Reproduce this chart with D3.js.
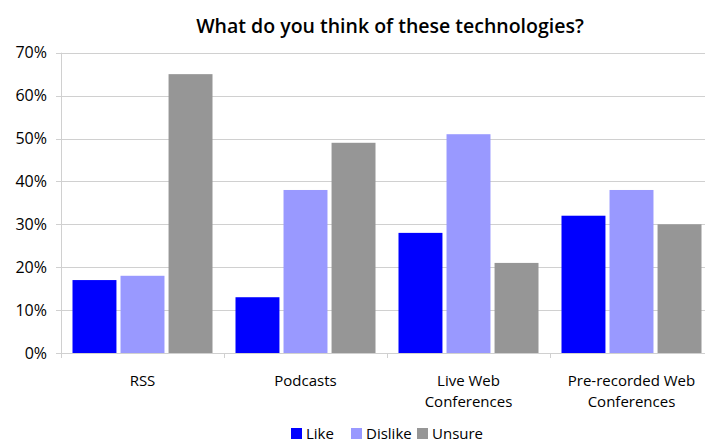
<!DOCTYPE html>
<html><head><meta charset="utf-8">
<script src="https://cdn.jsdelivr.net/npm/d3@7"></script>
<style>body{margin:0;background:#fff;} svg{display:block;font-family:"Open Sans",sans-serif;}</style>
</head><body>
<svg id="c" width="705" height="442"></svg>
<script>
const categories = [["RSS"], ["Podcasts"], ["Live Web", "Conferences"], ["Pre-recorded Web", "Conferences"]];
const seriesNames = ["Like", "Dislike", "Unsure"];
const likeValues = [17, 13, 28, 32];
const dislikeValues = [18, 38, 51, 38];
const unsureValues = [65, 49, 21, 30];
const yTicks = [0, 10, 20, 30, 40, 50, 60, 70];
const colors = ["#0000ff", "#9999ff", "#969696"];
const series = [likeValues, dislikeValues, unsureValues];

const svg = d3.select("#c");
const x0 = 61, yBottom = 353, yTop = 52.7, band = 163;
const x = d3.scaleBand().domain(d3.range(categories.length)).range([x0, x0 + band * categories.length]).paddingInner(0).paddingOuter(0);
const xs = d3.scaleBand().domain(d3.range(series.length)).range([11.5, band - 11.5]).paddingInner(0.085);
const y = d3.scaleLinear().domain([0, 70]).range([yBottom, yTop]);

// gridlines
svg.append("g").selectAll("line").data(yTicks).join("line")
  .attr("x1", x0 - 5).attr("x2", 705).attr("y1", d => Math.round(y(d)) + 0.5).attr("y2", d => Math.round(y(d)) + 0.5)
  .attr("stroke", "#d0d0d0").attr("stroke-width", 1);
// y axis line
svg.append("line").attr("x1", x0 + 0.5).attr("x2", x0 + 0.5).attr("y1", y(70)).attr("y2", yBottom + 5).attr("stroke", "#d0d0d0");
// category ticks
svg.append("g").selectAll("line").data(d3.range(categories.length + 1)).join("line")
  .attr("x1", d => x0 + d * band + 0.5).attr("x2", d => x0 + d * band + 0.5)
  .attr("y1", yBottom).attr("y2", yBottom + 5).attr("stroke", "#d0d0d0");

// y labels
svg.append("g").selectAll("text").data(yTicks).join("text")
  .attr("x", 47).attr("y", d => y(d)).attr("dy", "0.35em").attr("text-anchor", "end")
  .attr("font-size", 16).attr("fill", "#000").text(d => d + "%");

// bars
series.forEach((vals, si) => {
  svg.append("g").selectAll("rect").data(vals).join("rect")
    .attr("x", (d, i) => x(i) + xs(si)).attr("width", xs.bandwidth())
    .attr("y", d => y(d)).attr("height", d => yBottom - y(d))
    .attr("fill", colors[si]);
});
// baseline
svg.append("line").attr("x1", x0).attr("x2", 705).attr("y1", yBottom + 0.5).attr("y2", yBottom + 0.5).attr("stroke", "#d0d0d0");

// category labels
const cl = svg.append("g").selectAll("text").data(categories).join("text")
  .attr("text-anchor", "middle").attr("font-size", 15).attr("fill", "#000")
  .attr("transform", (d, i) => `translate(${x(i) + band / 2},${yBottom + 33})`);
cl.selectAll("tspan").data(d => d).join("tspan").attr("x", 0).attr("dy", (d, j) => j ? 21 : 0).text(d => d);

// title
svg.append("text").attr("x", 390).attr("y", 33).attr("text-anchor", "middle").attr("font-size", 19.5).attr("font-weight", 600).attr("fill", "#000")
  .text("What do you think of these technologies?");

// legend
const legX = [291, 351, 417];
const lg = svg.append("g").selectAll("g").data(seriesNames).join("g").attr("transform", (d, i) => `translate(${legX[i]},428)`);
lg.append("rect").attr("width", 11).attr("height", 11).attr("fill", (d, i) => colors[i]);
lg.append("text").attr("x", 15).attr("y", 10.5).attr("font-size", 15).attr("fill", "#000").text(d => d);
</script>
</body></html>
